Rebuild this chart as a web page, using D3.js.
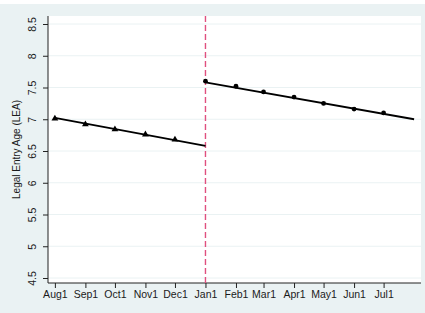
<!DOCTYPE html>
<html><head><meta charset="utf-8">
<script src="https://cdn.jsdelivr.net/npm/d3@7"></script>
<style>body{margin:0;background:#eaf2f3;}svg{display:block;}</style>
</head><body>
<script>
const months = ["Aug1","Sep1","Oct1","Nov1","Dec1","Jan1","Feb1","Mar1","Apr1","May1","Jun1","Jul1"];
const monthDates = ["2001-08-01","2001-09-01","2001-10-01","2001-11-01","2001-12-01","2002-01-01","2002-02-01","2002-03-01","2002-04-01","2002-05-01","2002-06-01","2002-07-01"];
const beforeDates = ["2001-08-01","2001-09-01","2001-10-01","2001-11-01","2001-12-01"];
const beforeValues = [7.01, 6.92, 6.84, 6.76, 6.68];
const afterDates = ["2002-01-01","2002-02-01","2002-03-01","2002-04-01","2002-05-01","2002-06-01","2002-07-01"];
const afterValues = [7.60, 7.52, 7.43, 7.35, 7.25, 7.16, 7.10];
const fitBeforeDates = ["2001-08-01","2002-01-01"];
const fitBeforeValues = [7.02, 6.58];
const fitAfterDates = ["2002-01-01","2002-08-01"];
const fitAfterValues = [7.58, 7.00];
const yTicks = [4.5,5,5.5,6,6.5,7,7.5,8,8.5];
const cutoffDate = "2002-01-01";

const W=425,H=313;
const L=48,R=421,T=16,B=283;
const parse = d3.utcParse("%Y-%m-%d");
const x = d3.scaleUtc().domain([parse("2001-07-25"), parse("2002-08-08")]).range([L,R]);
const y = d3.scaleLinear().domain([4.5 - 5/63.5, 8.5 + 8/63.5]).range([B,T]);

const svg = d3.select("body").append("svg").attr("width",W).attr("height",H);
svg.append("rect").attr("width",W).attr("height",H).attr("fill","#eaf2f3");
svg.append("rect").attr("width",W).attr("height",4).attr("fill","#ffffff");
svg.append("rect").attr("x",L).attr("y",T).attr("width",R-L).attr("height",B-T).attr("fill","#ffffff");

// grid
svg.append("g").selectAll("line").data(yTicks).join("line")
  .attr("x1",L).attr("x2",R).attr("y1",d=>y(d)).attr("y2",d=>y(d))
  .attr("stroke","#eaf2f3").attr("stroke-width",1);

const font = "'Liberation Sans', Arial, Helvetica, sans-serif";

// y axis
const yAxis = d3.axisLeft(y).tickValues(yTicks).tickSize(5).tickFormat(d3.format("~g"));
const gy = svg.append("g").attr("transform",`translate(${L},0)`).call(yAxis);
gy.select(".domain").attr("stroke","#222").attr("d",`M0,${T}V${B}`);
gy.selectAll(".tick line").attr("stroke","#222");
gy.selectAll(".tick text").attr("font-family",font).attr("font-size",10.5).attr("fill","#1a1a1a")
  .attr("text-anchor","middle").attr("x",0).attr("y",0).attr("dy","0")
  .attr("transform","translate(-12,0) rotate(-90)");

// x axis
const xAxis = d3.axisBottom(x).tickValues(monthDates.map(parse)).tickSize(5)
  .tickFormat((d,i)=>months[i]);
const gx = svg.append("g").attr("transform",`translate(0,${B})`).call(xAxis);
gx.select(".domain").attr("stroke","#222").attr("d",`M${L},0H${R}`);
gx.selectAll(".tick line").attr("stroke","#222");
gx.selectAll(".tick text").attr("font-family",font).attr("font-size",10.5).attr("fill","#1a1a1a").attr("y",8);

// y label
svg.append("text").attr("transform",`translate(20,${(T+B)/2}) rotate(-90)`)
  .attr("text-anchor","middle").attr("font-family",font).attr("font-size",10).attr("fill","#1a1a1a")
  .text("Legal Entry Age (LEA)");

// cutoff line
svg.append("line").attr("x1",x(parse(cutoffDate))).attr("x2",x(parse(cutoffDate)))
  .attr("y1",T).attr("y2",B).attr("stroke","#e0507f").attr("stroke-width",1.4)
  .attr("stroke-dasharray","6,3");

// fit lines
const line = d3.line().x(d=>x(d[0])).y(d=>y(d[1]));
svg.append("path").datum(fitBeforeDates.map((d,i)=>[parse(d),fitBeforeValues[i]]))
  .attr("d",line).attr("fill","none").attr("stroke","#000").attr("stroke-width",1.8);
svg.append("path").datum(fitAfterDates.map((d,i)=>[parse(d),fitAfterValues[i]]))
  .attr("d",line).attr("fill","none").attr("stroke","#000").attr("stroke-width",1.8);

// markers
const tri = d3.symbol().type(d3.symbolTriangle).size(20);
svg.append("g").selectAll("path").data(beforeDates.map((d,i)=>[parse(d),beforeValues[i]])).join("path")
  .attr("d",tri).attr("transform",d=>`translate(${x(d[0])},${y(d[1])})`).attr("fill","#000");
svg.append("g").selectAll("circle").data(afterDates.map((d,i)=>[parse(d),afterValues[i]])).join("circle")
  .attr("cx",d=>x(d[0])).attr("cy",d=>y(d[1])).attr("r",2.4).attr("fill","#000");
</script>
</body></html>
